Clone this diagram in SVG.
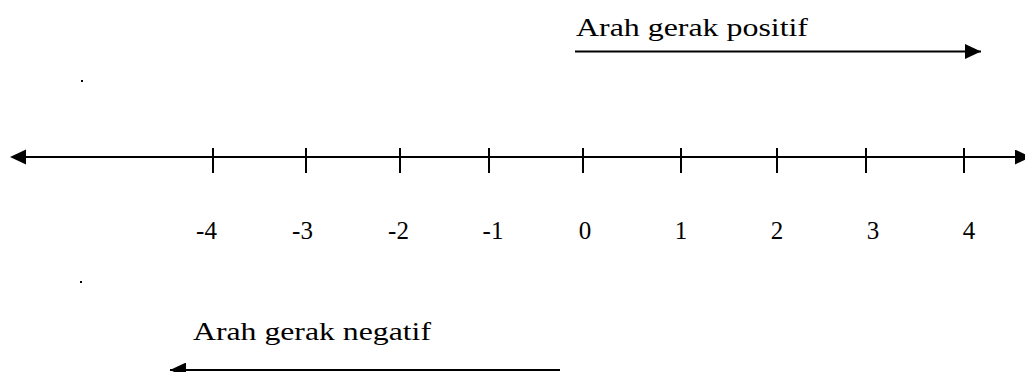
<svg xmlns="http://www.w3.org/2000/svg" width="1025" height="372" viewBox="0 0 1025 372">
<style>
.ln{stroke:#000;stroke-width:2;fill:none}
.tk{stroke:#000;stroke-width:2}
.t{font-family:'Liberation Serif','Times New Roman',serif;font-size:25px;fill:#000}
.n{text-anchor:middle}
</style>
<defs>
<marker id="ah" viewBox="0 0 16 15" refX="16" refY="7.5" markerWidth="16" markerHeight="15" markerUnits="userSpaceOnUse" orient="auto">
<path d="M0,0 L16,7.5 L0,15 Z" fill="#000"/>
</marker>
</defs>
<rect width="1025" height="372" fill="#fff"/>
<g id="connectors">
<line id="axis" class="ln" x1="12" y1="157" x2="1031" y2="157" marker-end="url(#ah)"/>
<path d="M10,157 L26,149.5 L26,164.5 Z" fill="#000"/>
<line id="pos-arrow" class="ln" x1="575" y1="51.5" x2="981" y2="51.5" marker-end="url(#ah)"/>
<line id="neg-arrow" class="ln" x1="560" y1="370" x2="170" y2="370" marker-end="url(#ah)"/>
</g>
<g id="ticks">
<line class="tk" x1="213" y1="148" x2="213" y2="173"/>
<line class="tk" x1="306" y1="148" x2="306" y2="173"/>
<line class="tk" x1="400" y1="148" x2="400" y2="173"/>
<line class="tk" x1="489" y1="148" x2="489" y2="173"/>
<line class="tk" x1="583" y1="148" x2="583" y2="173"/>
<line class="tk" x1="681" y1="148" x2="681" y2="173"/>
<line class="tk" x1="777" y1="148" x2="777" y2="173"/>
<line class="tk" x1="866" y1="148" x2="866" y2="173"/>
<line class="tk" x1="964" y1="148" x2="964" y2="173"/>
</g>
<g id="numbers">
<text class="t n" x="206.5" y="239">-4</text>
<text class="t n" x="302.5" y="239">-3</text>
<text class="t n" x="398.5" y="239">-2</text>
<text class="t n" x="493" y="239">-1</text>
<text class="t n" x="585" y="239">0</text>
<text class="t n" x="681" y="239">1</text>
<text class="t n" x="777" y="239">2</text>
<text class="t n" x="873" y="239">3</text>
<text class="t n" x="969" y="239">4</text>
</g>
<g id="label-positif">
<text class="t" x="576" y="36" textLength="232" lengthAdjust="spacingAndGlyphs">Arah gerak positif</text>
</g>
<g id="label-negatif">
<text class="t" x="193" y="340" textLength="238" lengthAdjust="spacingAndGlyphs">Arah gerak negatif</text>
</g>
<g id="dots">
<rect x="81" y="80" width="2" height="2" fill="#000"/>
<rect x="80" y="281" width="2" height="2" fill="#000"/>
</g>
</svg>
